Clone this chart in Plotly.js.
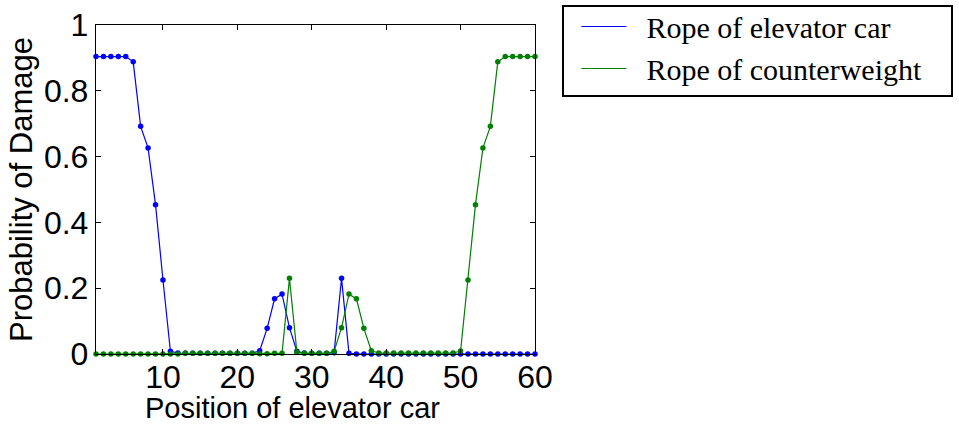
<!DOCTYPE html>
<html>
<head>
<meta charset="utf-8">
<script src="https://cdn.plot.ly/plotly-3.0.1.min.js"></script>
<style>
  html, body { margin: 0; padding: 0; background: #fff; }
  #chart { width: 959px; height: 428px; }
</style>
</head>
<body>
<div id="chart"></div>
<script>
// Position index of the elevator car along the shaft
const positions = [
  1, 2, 3, 4, 5, 6, 7, 8, 9, 10,
  11, 12, 13, 14, 15, 16, 17, 18, 19, 20,
  21, 22, 23, 24, 25, 26, 27, 28, 29, 30,
  31, 32, 33, 34, 35, 36, 37, 38, 39, 40,
  41, 42, 43, 44, 45, 46, 47, 48, 49, 50,
  51, 52, 53, 54, 55, 56, 57, 58, 59, 60
];

// Probability of damage: rope of the elevator car
const carRope = [
  0.904, 0.904, 0.904, 0.904, 0.904, 0.888, 0.692, 0.626, 0.454, 0.225,
  0.008, 0.003, 0.003, 0.002, 0.002, 0.002, 0.002, 0.002, 0.002, 0.002,
  0.002, 0.002, 0.010, 0.078, 0.168, 0.182, 0.080, 0.008, 0.003, 0.002,
  0.002, 0.002, 0.004, 0.230, 0.002, 0.000, 0.000, 0.000, 0.000, 0.000,
  0.000, 0.000, 0.000, 0.000, 0.000, 0.000, 0.000, 0.000, 0.000, 0.000,
  0.000, 0.000, 0.000, 0.000, 0.000, 0.000, 0.000, 0.000, 0.000, 0.000
];

// Probability of damage: rope of the counterweight
const counterweightRope = [
  0.000, 0.000, 0.000, 0.000, 0.000, 0.000, 0.000, 0.000, 0.000, 0.000,
  0.000, 0.000, 0.002, 0.002, 0.002, 0.002, 0.002, 0.002, 0.002, 0.002,
  0.002, 0.002, 0.001, 0.001, 0.002, 0.002, 0.230, 0.005, 0.002, 0.002,
  0.002, 0.002, 0.008, 0.080, 0.182, 0.168, 0.078, 0.010, 0.003, 0.003,
  0.003, 0.003, 0.003, 0.003, 0.003, 0.003, 0.003, 0.003, 0.003, 0.009,
  0.225, 0.454, 0.626, 0.692, 0.888, 0.904, 0.904, 0.904, 0.904, 0.904
];

const seriesNames = ['Rope of elevator car', 'Rope of counterweight'];
const seriesColors = ['#0000ff', '#008000'];
const xTicks = [10, 20, 30, 40, 50, 60];
const yTicks = [0, 0.2, 0.4, 0.6, 0.8, 1];
const yTickText = ['0', '0.2', '0.4', '0.6', '0.8', '1'];
const xTitle = 'Position of elevator car';
const yTitle = 'Probability of Damage';

const sansNarrow = '"Liberation Sans Narrow", "Arial Narrow", "Liberation Sans", Arial, sans-serif';
const tickFont = { family: sansNarrow, size: 32, color: '#000' };
const titleFont = { family: sansNarrow, size: 31, color: '#000' };
const xTitleFont = { family: sansNarrow, size: 29, color: '#000' };
const NBSP = '\u00a0';

const traces = [];
[carRope, counterweightRope].forEach((vals, i) => {
  // line used for the legend entry
  traces.push({
    x: positions, y: vals, type: 'scatter', mode: 'lines',
    name: NBSP + NBSP + seriesNames[i], line: { color: seriesColors[i], width: 1.2 },
    cliponaxis: false, legendgroup: 'g' + i
  });
  // dot markers at each position
  traces.push({
    x: positions, y: vals, type: 'scatter', mode: 'markers',
    marker: { color: seriesColors[i], size: 5.5 },
    showlegend: false, cliponaxis: false, legendgroup: 'g' + i
  });
});

const layout = {
  width: 959, height: 428,
  margin: { l: 96, r: 424, t: 25, b: 74, autoexpand: false },
  paper_bgcolor: '#fff', plot_bgcolor: '#fff',
  showlegend: true,
  legend: {
    x: 1.0943, y: 1.0745, xanchor: 'left', yanchor: 'top',
    borderwidth: 0, bgcolor: 'rgba(0,0,0,0)',
    font: { family: '"Liberation Serif", "Times New Roman", serif', size: 30, color: '#000' },
    tracegroupgap: 0, itemwidth: 45
  },
  // frame around the legend
  shapes: [{
    type: 'rect', xref: 'paper', yref: 'paper',
    x0: 1.0638, x1: 1.9499, y0: 0.784, y1: 1.058,
    line: { color: '#000', width: 2 }, fillcolor: 'rgba(0,0,0,0)'
  }],
  // x-axis title, set slightly left of the axis centre
  annotations: [{
    text: xTitle, xref: 'paper', yref: 'paper', x: 0.4476, y: -0.219,
    xanchor: 'center', yanchor: 'bottom', showarrow: false, font: xTitleFont
  }],
  xaxis: {
    range: [1, 60], tickvals: xTicks, ticks: 'inside', ticklen: 5, tickcolor: '#000',
    showline: true, linecolor: '#000', linewidth: 1.2, mirror: 'ticks',
    showgrid: false, zeroline: false, tickfont: tickFont, ticklabelstandoff: -6
  },
  yaxis: {
    range: [0, 1], tickvals: yTicks, ticktext: yTickText, ticks: 'inside', ticklen: 5, tickcolor: '#000',
    showline: true, linecolor: '#000', linewidth: 1.2, mirror: 'ticks',
    showgrid: false, zeroline: false, tickfont: tickFont,
    title: { text: yTitle, font: titleFont, standoff: 2 }
  }
};

Plotly.newPlot('chart', traces, layout, { displayModeBar: false, staticPlot: true });
</script>
</body>
</html>
